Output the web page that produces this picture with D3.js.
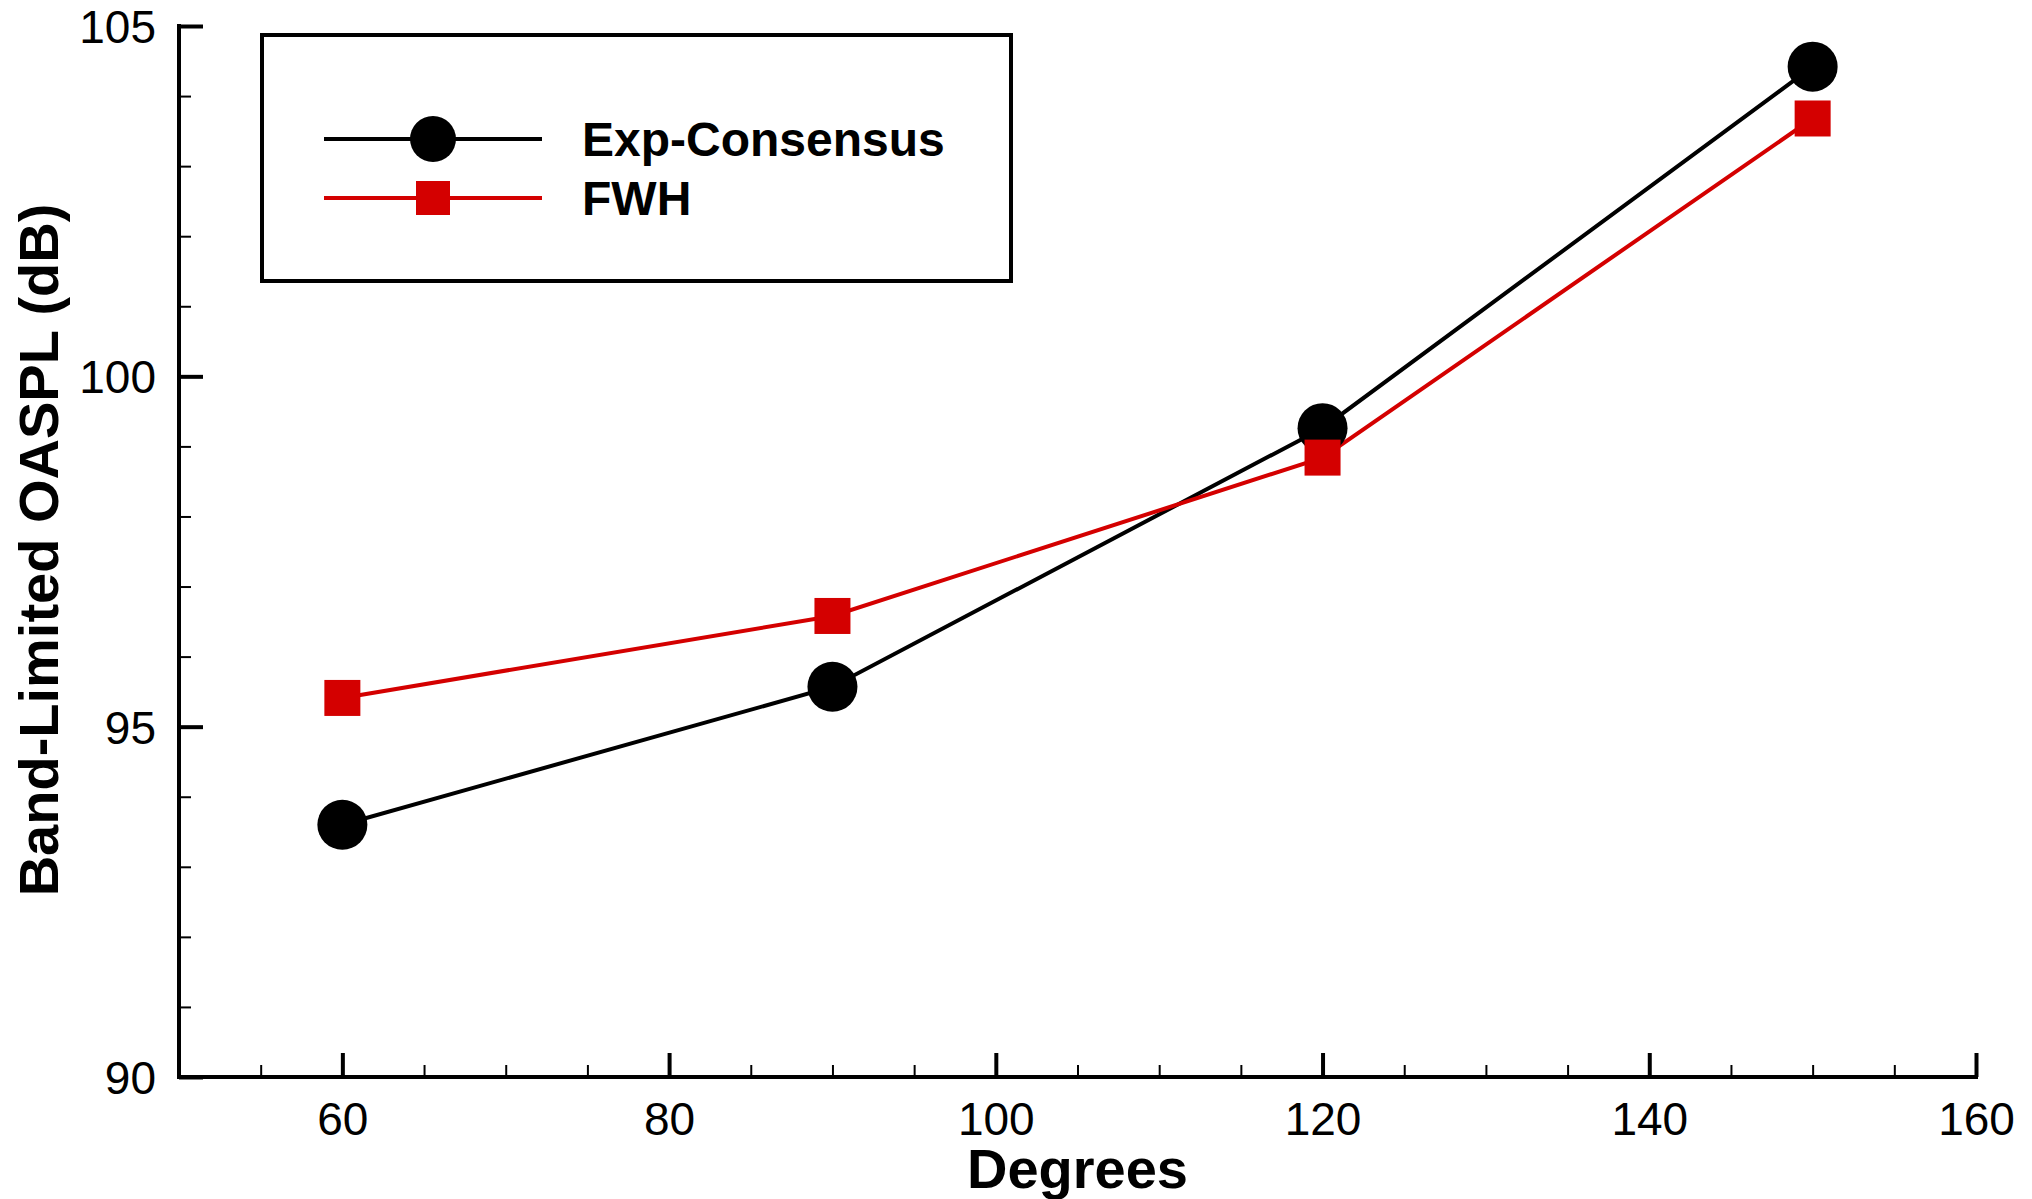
<!DOCTYPE html>
<html>
<head>
<meta charset="utf-8">
<script src="https://cdn.jsdelivr.net/npm/d3@7"></script>
<style>
html,body{margin:0;padding:0;background:#fff;}
svg{display:block;}
text{font-family:"Liberation Sans",Arial,Helvetica,sans-serif;}
</style>
</head>
<body>
<script>
const degrees = [60, 90, 120, 150];
const expConsensus = [93.60, 95.57, 99.26, 104.42];
const fwh = [95.41, 96.58, 98.84, 103.68];
const seriesNames = ["Exp-Consensus", "FWH"];
const xMajorTicks = [60, 80, 100, 120, 140, 160];
const xMinorTicks = [55, 65, 70, 75, 85, 90, 95, 105, 110, 115, 125, 130, 135, 145, 150, 155];
const yMajorTicks = [90, 95, 100, 105];
const yMinorTicks = [91, 92, 93, 94, 96, 97, 98, 99, 101, 102, 103, 104];
const xTitle = "Degrees";
const yTitle = "Band-Limited OASPL (dB)";

const W = 2032, H = 1199;
const svg = d3.select("body").append("svg").attr("width", W).attr("height", H);

const x = d3.scaleLinear().domain([50, 160]).range([179, 1976]);
const y = d3.scaleLinear().domain([90, 105]).range([1077, 26]);

const RED = "#d40000";

// axes
const gx = svg.append("g").attr("transform", `translate(0,${y(90)})`);
gx.call(d3.axisBottom(x).tickValues(xMinorTicks).tickSize(-12).tickFormat(""))
  .call(g => g.select(".domain").remove())
  .call(g => g.selectAll(".tick line").attr("stroke", "#000").attr("stroke-width", 2));
const gx2 = svg.append("g").attr("transform", `translate(0,${y(90)})`);
gx2.call(d3.axisBottom(x).tickValues(xMajorTicks).tickSize(-24).tickPadding(0).tickFormat(d3.format("d")))
  .call(g => g.select(".domain").remove())
  .call(g => g.selectAll(".tick line").attr("stroke", "#000").attr("stroke-width", 4))
  .call(g => g.selectAll(".tick text").attr("font-size", 46).attr("fill", "#000")
        .attr("y", 58).attr("dy", 0));

const gy = svg.append("g").attr("transform", `translate(${x(50)},0)`);
gy.call(d3.axisLeft(y).tickValues(yMinorTicks).tickSize(-12).tickFormat(""))
  .call(g => g.select(".domain").remove())
  .call(g => g.selectAll(".tick line").attr("stroke", "#000").attr("stroke-width", 2));
const gy2 = svg.append("g").attr("transform", `translate(${x(50)},0)`);
gy2.call(d3.axisLeft(y).tickValues(yMajorTicks).tickSize(-24).tickFormat(d3.format("d")))
  .call(g => g.select(".domain").remove())
  .call(g => g.selectAll(".tick line").attr("stroke", "#000").attr("stroke-width", 4))
  .call(g => g.selectAll(".tick text").attr("font-size", 46).attr("fill", "#000")
        .attr("x", -23).attr("dy", "0.36em"));

// axis lines
svg.append("line").attr("x1", x(50) - 2).attr("x2", x(160) + 2).attr("y1", y(90)).attr("y2", y(90))
  .attr("stroke", "#000").attr("stroke-width", 4);
svg.append("line").attr("x1", x(50)).attr("x2", x(50)).attr("y1", y(90) + 2).attr("y2", y(105) - 2)
  .attr("stroke", "#000").attr("stroke-width", 4);

// titles
svg.append("text").attr("x", (x(50) + x(160)) / 2).attr("y", 1188)
  .attr("text-anchor", "middle").attr("font-size", 56).attr("font-weight", "bold").text(xTitle);
svg.append("text").attr("transform", `translate(58,550) rotate(-90)`)
  .attr("text-anchor", "middle").attr("font-size", 56).attr("font-weight", "bold").text(yTitle);

// lines
const line = d3.line().x((d, i) => x(degrees[i])).y(d => y(d));
svg.append("path").datum(expConsensus).attr("d", line).attr("fill", "none")
  .attr("stroke", "#000").attr("stroke-width", 4);
svg.append("path").datum(fwh).attr("d", line).attr("fill", "none")
  .attr("stroke", RED).attr("stroke-width", 4);

// markers
svg.append("g").selectAll("circle").data(expConsensus).join("circle")
  .attr("cx", (d, i) => x(degrees[i])).attr("cy", d => y(d)).attr("r", 25).attr("fill", "#000");
svg.append("g").selectAll("rect").data(fwh).join("rect")
  .attr("x", (d, i) => x(degrees[i]) - 18).attr("y", d => y(d) - 18)
  .attr("width", 36).attr("height", 36).attr("fill", RED);

// legend
const lg = svg.append("g");
lg.append("rect").attr("x", 262).attr("y", 35).attr("width", 749).attr("height", 246)
  .attr("fill", "#fff").attr("stroke", "#000").attr("stroke-width", 4);
const legendY = [139, 198];
const colors = ["#000", RED];
seriesNames.forEach((name, i) => {
  lg.append("line").attr("x1", 324).attr("x2", 542).attr("y1", legendY[i]).attr("y2", legendY[i])
    .attr("stroke", colors[i]).attr("stroke-width", 4);
  if (i === 0) {
    lg.append("circle").attr("cx", 433).attr("cy", legendY[i]).attr("r", 23).attr("fill", "#000");
  } else {
    lg.append("rect").attr("x", 433 - 17).attr("y", legendY[i] - 17).attr("width", 34).attr("height", 34).attr("fill", RED);
  }
  lg.append("text").attr("x", 582).attr("y", legendY[i]).attr("dy", "0.36em")
    .attr("font-size", 48).attr("font-weight", "bold").text(name);
});
</script>
</body>
</html>
